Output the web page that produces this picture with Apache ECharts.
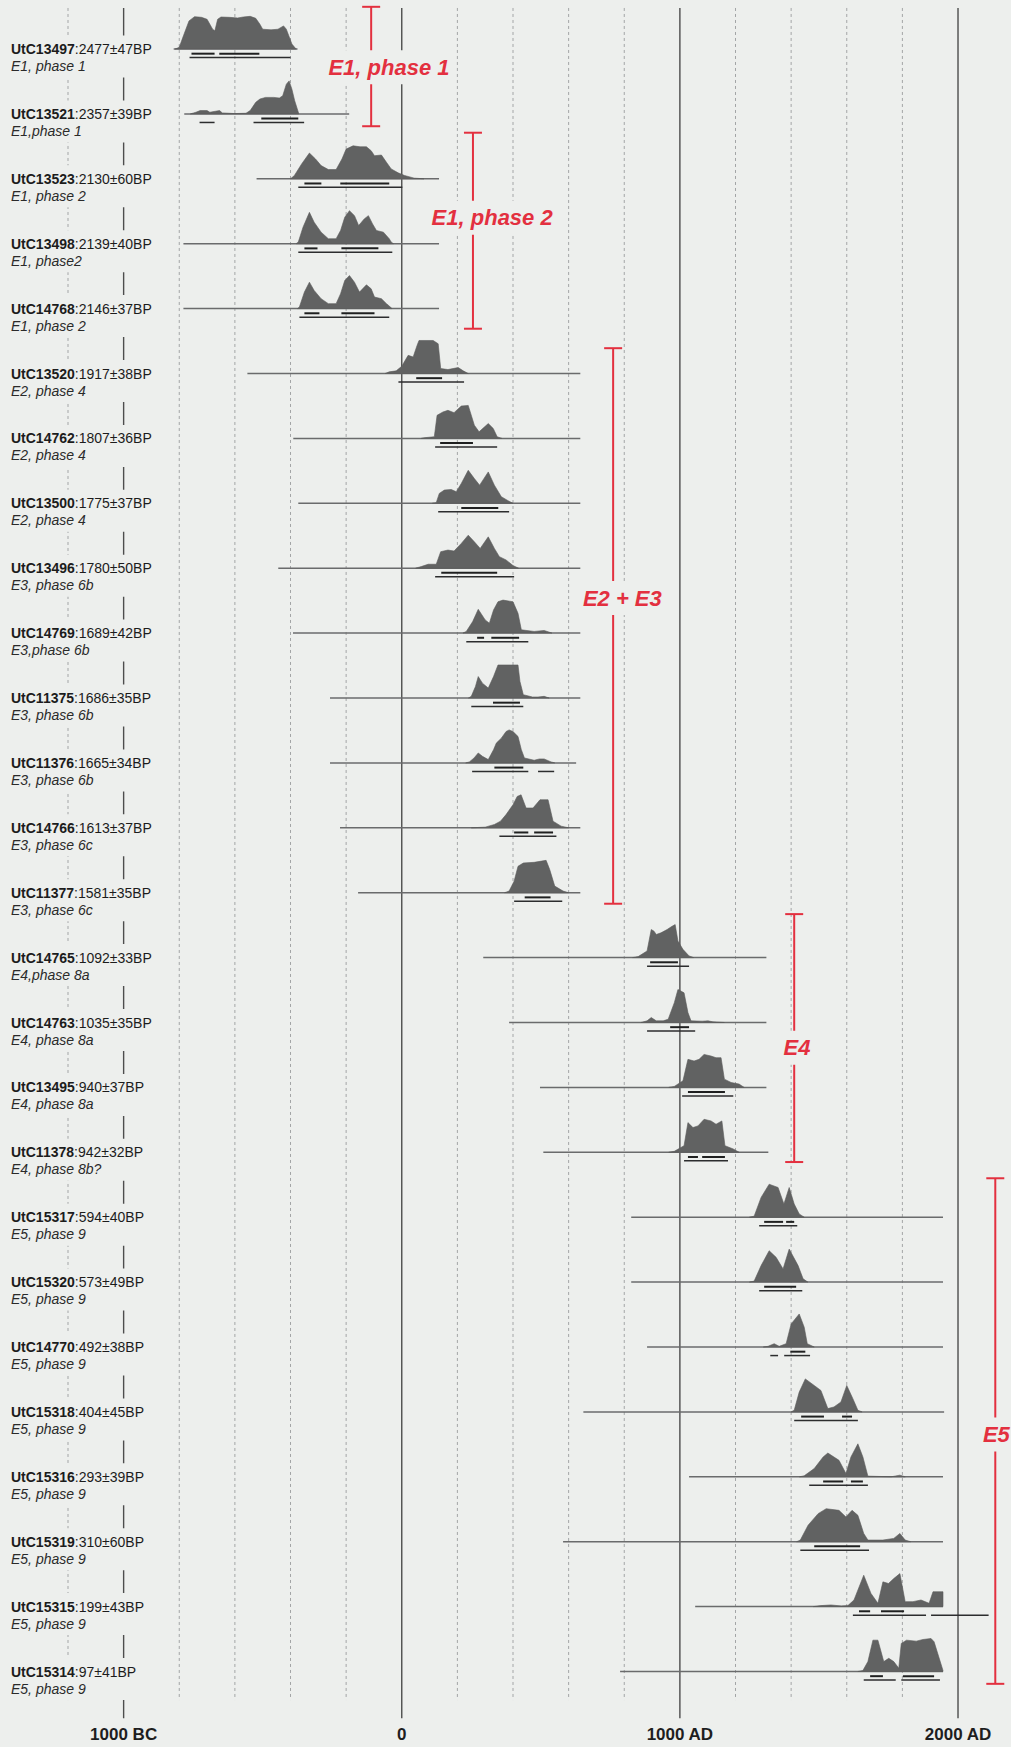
<!DOCTYPE html>
<html><head><meta charset="utf-8">
<script src="https://cdn.jsdelivr.net/npm/echarts@6/dist/echarts.min.js"></script>
<style>html,body{margin:0;padding:0;background:#edefed;}#c{width:1011px;height:1747px;}</style>
</head><body><div id="c"></div>
<script>
// ---------------- DATA ----------------
const sampleIds = ['UtC13497','UtC13521','UtC13523','UtC13498','UtC14768','UtC13520','UtC14762','UtC13500','UtC13496','UtC14769','UtC11375','UtC11376','UtC14766','UtC11377','UtC14765','UtC14763','UtC13495','UtC11378','UtC15317','UtC15320','UtC14770','UtC15318','UtC15316','UtC15319','UtC15315','UtC15314'];
const bpDates = ['2477±47BP','2357±39BP','2130±60BP','2139±40BP','2146±37BP','1917±38BP','1807±36BP','1775±37BP','1780±50BP','1689±42BP','1686±35BP','1665±34BP','1613±37BP','1581±35BP','1092±33BP','1035±35BP','940±37BP','942±32BP','594±40BP','573±49BP','492±38BP','404±45BP','293±39BP','310±60BP','199±43BP','97±41BP'];
const contexts = ['E1, phase 1','E1,phase 1','E1, phase 2','E1, phase2','E1, phase 2','E2, phase 4','E2, phase 4','E2, phase 4','E3, phase 6b','E3,phase 6b','E3, phase 6b','E3, phase 6b','E3, phase 6c','E3, phase 6c','E4,phase 8a','E4, phase 8a','E4, phase 8a','E4, phase 8b?','E5, phase 9','E5, phase 9','E5, phase 9','E5, phase 9','E5, phase 9','E5, phase 9','E5, phase 9','E5, phase 9'];
// calendar span of each plotted baseline (years, negative = BC)
const spanStart = [-820,-782,-522,-785,-785,-555,-390,-372,-444,-391,-258,-258,-222,-157,293,386,497,509,825,825,882,653,1033,580,1055,785];
const spanEnd   = [-375,-189,134,134,134,642,642,642,642,642,642,627,642,642,1311,1311,1311,1318,1946,1946,1946,1950,1946,1946,1946,1946];
// probability profiles: [year, relative density]
const profiles = [
 [[-815,0],[-800,0.05],[-785,0.4],[-765,0.85],[-745,0.98],[-720,0.96],[-700,0.9],[-680,0.6],[-672,0.55],[-662,0.9],[-650,0.97],[-620,0.96],[-590,0.94],[-570,0.97],[-545,0.99],[-525,0.93],[-510,0.75],[-500,0.6],[-470,0.58],[-445,0.6],[-425,0.7],[-415,0.6],[-395,0.15],[-380,0]],
 [[-760,0],[-740,0.05],[-725,0.1],[-700,0.1],[-690,0.05],[-670,0.08],[-655,0.1],[-645,0.03],[-600,0.01],[-560,0.02],[-545,0.1],[-525,0.35],[-510,0.45],[-490,0.5],[-460,0.5],[-440,0.48],[-428,0.55],[-415,0.9],[-405,1.0],[-395,0.75],[-385,0.4],[-370,0]],
 [[-400,0],[-386,0.1],[-360,0.45],[-332,0.78],[-310,0.6],[-290,0.4],[-264,0.28],[-236,0.28],[-215,0.6],[-200,0.9],[-175,1.0],[-150,0.97],[-127,0.97],[-110,0.85],[-98,0.7],[-73,0.72],[-55,0.5],[-38,0.3],[-13,0.18],[10,0.1],[45,0.02],[80,0]],
 [[-380,0],[-372,0.05],[-355,0.5],[-332,0.95],[-315,0.65],[-290,0.35],[-264,0.15],[-236,0.15],[-220,0.4],[-205,0.8],[-188,1.0],[-170,0.85],[-155,0.55],[-135,0.75],[-120,0.85],[-105,0.6],[-91,0.4],[-66,0.35],[-45,0.15],[-38,0.05],[-30,0]],
 [[-375,0],[-368,0.05],[-350,0.5],[-332,0.8],[-315,0.55],[-290,0.3],[-264,0.15],[-236,0.15],[-220,0.45],[-205,0.85],[-188,1.0],[-170,0.8],[-152,0.5],[-127,0.72],[-110,0.6],[-98,0.35],[-73,0.3],[-55,0.15],[-48,0.1],[-35,0]],
 [[-60,0],[-45,0.05],[-20,0.08],[0,0.22],[23,0.55],[41,0.5],[55,0.85],[62,1.0],[113,1.0],[131,0.9],[140,0.15],[166,0.12],[203,0.18],[221,0.08],[239,0]],
 [[70,0],[81,0.02],[117,0.05],[127,0.7],[148,0.8],[166,0.85],[188,0.78],[214,0.98],[239,1.0],[261,0.4],[278,0.2],[311,0.45],[329,0.3],[343,0.05],[360,0]],
 [[110,0],[124,0.02],[135,0.3],[153,0.4],[178,0.42],[196,0.35],[214,0.6],[239,1.0],[261,0.75],[280,0.55],[311,0.95],[333,0.55],[358,0.2],[382,0.08],[400,0]],
 [[50,0],[70,0.05],[95,0.12],[124,0.12],[140,0.5],[166,0.55],[188,0.52],[214,0.75],[239,1.0],[261,0.8],[282,0.6],[311,0.95],[333,0.6],[351,0.35],[375,0.25],[400,0.08],[420,0]],
 [[220,0],[232,0.05],[255,0.35],[275,0.72],[300,0.4],[315,0.3],[330,0.7],[346,0.95],[364,1.0],[400,0.95],[418,0.6],[430,0.1],[476,0.05],[512,0.08],[540,0]],
 [[240,0],[250,0.05],[265,0.35],[275,0.65],[290,0.45],[311,0.3],[330,0.65],[346,1.0],[418,1.0],[425,0.5],[437,0.1],[470,0.03],[490,0.03],[512,0.05],[530,0]],
 [[230,0],[243,0.03],[260,0.15],[275,0.3],[290,0.2],[311,0.1],[330,0.4],[340,0.6],[358,0.75],[375,0.95],[386,1.0],[400,0.95],[418,0.8],[430,0.4],[441,0.15],[476,0.08],[495,0.12],[512,0.12],[537,0.03],[550,0]],
 [[250,0],[300,0.02],[333,0.1],[355,0.2],[375,0.4],[400,0.7],[415,0.95],[429,1.0],[447,0.6],[472,0.6],[497,0.85],[526,0.85],[544,0.2],[573,0.05],[600,0]],
 [[370,0],[386,0.05],[404,0.35],[418,0.8],[437,0.9],[476,0.92],[519,0.98],[532,0.7],[550,0.2],[580,0.05],[600,0]],
 [[830,0],[850,0.03],[882,0.2],[897,0.85],[907,0.8],[915,0.7],[932,0.75],[954,0.85],[972,0.95],[983,1.0],[993,0.5],[1011,0.25],[1033,0.05],[1050,0]],
 [[860,0],[882,0.05],[897,0.15],[915,0.05],[940,0.05],[958,0.1],[980,0.6],[993,1.0],[1015,0.9],[1029,0.3],[1040,0.05],[1080,0.04],[1101,0.05],[1119,0.02],[1160,0]],
 [[960,0],[980,0.03],[1011,0.2],[1029,0.85],[1051,0.8],[1069,0.85],[1087,1.0],[1112,0.95],[1130,0.9],[1148,0.9],[1160,0.25],[1184,0.15],[1213,0.1],[1231,0]],
 [[960,0],[980,0.03],[1015,0.2],[1029,0.9],[1047,0.75],[1065,0.8],[1087,1.0],[1112,0.95],[1130,0.85],[1151,0.95],[1162,0.2],[1192,0.1],[1213,0]],
 [[1250,0],[1267,0.03],[1292,0.6],[1321,1.0],[1353,0.9],[1374,0.4],[1393,0.9],[1411,0.4],[1429,0.1],[1447,0]],
 [[1250,0],[1267,0.03],[1292,0.5],[1321,0.95],[1346,0.75],[1371,0.4],[1393,1.0],[1425,0.5],[1443,0.1],[1460,0]],
 [[1300,0],[1317,0.02],[1339,0.1],[1357,0.02],[1382,0.1],[1400,0.7],[1429,1.0],[1447,0.6],[1458,0.1],[1483,0]],
 [[1400,0],[1411,0.05],[1429,0.6],[1451,1.0],[1483,0.8],[1507,0.65],[1532,0.1],[1554,0.15],[1579,0.3],[1600,0.8],[1622,0.4],[1640,0.05],[1655,0]],
 [[1430,0],[1447,0.03],[1483,0.25],[1515,0.6],[1532,0.72],[1572,0.5],[1597,0.1],[1615,0.6],[1640,1.0],[1658,0.6],[1676,0.02],[1760,0],[1791,0.05],[1810,0]],
 [[1420,0],[1433,0.05],[1461,0.5],[1497,0.85],[1526,1.0],[1572,0.95],[1597,0.75],[1619,0.95],[1640,0.8],[1661,0.25],[1676,0.05],[1730,0.05],[1769,0.1],[1791,0.25],[1810,0.05],[1830,0]],
 [[1480,0],[1507,0.03],[1543,0.05],[1580,0.02],[1604,0.03],[1626,0.2],[1661,0.95],[1687,0.4],[1712,0.1],[1730,0.75],[1750,0.7],[1769,0.85],[1791,1.0],[1810,0.15],[1838,0.15],[1867,0.2],[1896,0.1],[1910,0.45],[1946,0.45]],
 [[1640,0],[1658,0.03],[1676,0.3],[1694,0.95],[1712,0.95],[1733,0.3],[1751,0.4],[1769,0.3],[1787,0.1],[1796,0.85],[1815,0.95],[1850,0.92],[1874,0.97],[1903,1.0],[1914,0.9],[1946,0.03]]
];
// 68.2% ranges
const sigma1 = [
 [[-756,-673],[-656,-512]],[[-505,-372]],[[-350,-289],[-221,-45]],[[-350,-303],[-217,-84]],[[-350,-296],[-217,-98]],
 [[52,145]],[[138,256]],[[214,347]],[[142,343]],[[271,296],[322,422]],[[328,425]],[[333,437]],[[404,455],[476,544]],[[442,535]],
 [[893,993]],[[965,1033]],[[1029,1162]],[[1029,1065],[1080,1162]],
 [[1303,1371],[1382,1411]],[[1303,1418]],[[1397,1451]],[[1436,1518],[1583,1619]],[[1515,1587],[1615,1658]],[[1483,1648]],[[1644,1684],[1723,1806]],[[1684,1730],[1802,1914]]
];
// 95.4% ranges
const sigma2 = [
 [[-763,-400]],[[-727,-673],[-533,-351]],[[-372,2]],[[-372,-34]],[[-368,-45]],
 [[-12,224]],[[120,343]],[[131,386]],[[120,404]],[[232,455]],[[250,437]],[[253,455],[490,548]],[[351,556]],[[404,577]],
 [[882,1033]],[[882,1055]],[[1008,1192]],[[1015,1173]],
 [[1285,1422]],[[1285,1440]],[[1325,1353],[1375,1468]],[[1411,1640]],[[1465,1676]],[[1433,1680]],[[1622,1885],[1903,2110]],[[1661,1776],[1796,1935]]
];
// vertical reference lines (years) and tick labels
const gridYears = [-1200,-1000,-800,-600,-400,-200,0,200,400,600,800,1000,1200,1400,1600,1800,2000];
const majorYears = [-1000,0,1000,2000];
const tickLabels = {'-1000':'1000 BC','0':'0','1000':'1000 AD','2000':'2000 AD'};
// phase groupings (red brackets): position in years, first/last row extent
const phaseNames = ['E1, phase 1','E1, phase 2','E2 + E3','E4','E5'];
const phaseYear  = [-110, 256, 760, 1411, 2134];
const phaseFrom  = [-0.65, 1.29, 4.61, 13.33, 17.40];
const phaseTo    = [1.19, 4.31, 13.17, 17.15, 25.19];
const phaseLabelYear = [-46, 325, 793, 1421, 2138];
const phaseLabelRow  = [0.28, 2.60, 8.46, 15.39, 21.35];

// ---------------- CHART ----------------
const F = '"Liberation Sans", Arial, Helvetica, sans-serif';
const PAPER = '#edefed';
const PEAK = 0.5085;         // profile height in row units
const RED = '#e3303f';
const chart = echarts.init(document.getElementById('c'), null, {renderer:'svg', width:1011, height:1747});

const rowIdx = sampleIds.map((_, i) => [i]);
const sigData = [];
sigma1.forEach((rs, i) => rs.forEach(r => sigData.push([r[0], r[1], i, 1])));
sigma2.forEach((rs, i) => rs.forEach(r => sigData.push([r[0], r[1], i, 2])));

const option = {
  backgroundColor: PAPER,
  animation: false,
  grid: {left: 68, right: 0, top: 16.55, height: 1687.4},
  xAxis: {
    type: 'value', min: -1200, max: 2190.5, interval: 200,
    axisLine: {show: false}, axisTick: {show: false}, splitLine: {show: false},
    axisLabel: {formatter: v => tickLabels[String(v)] || '', margin: 22, fontSize: 17, fontWeight: 'bold', color: '#1e1e1e', fontFamily: F, showMaxLabel: false}
  },
  yAxis: {type: 'value', inverse: true, min: -0.5, max: 25.5, show: false},
  series: [
    { // vertical reference lines
      type: 'custom', z: 1, clip: false, silent: true,
      data: gridYears.map(y => [y, majorYears.includes(y) ? 1 : 0]),
      renderItem: (p, api) => {
        const yr = api.value(0), major = api.value(1) === 1;
        const a = api.coord([yr, -0.632]);
        const b = api.coord([yr, major ? 25.72 : 25.44]);
        return {type: 'line', shape: {x1: a[0], y1: a[1], x2: b[0], y2: b[1]},
          style: {stroke: major ? '#4d4d4d' : '#a3a5a6', lineWidth: major ? 1.4 : 1, lineDash: major ? null : [3, 3]}};
      }
    },
    { // baselines
      type: 'custom', z: 2, clip: false, silent: true,
      data: rowIdx,
      renderItem: (p, api) => {
        const i = api.value(0);
        const a = api.coord([spanStart[i], i]), b = api.coord([spanEnd[i], i]);
        return {type: 'line', shape: {x1: a[0], y1: a[1], x2: b[0], y2: b[1]}, style: {stroke: '#6a6b6c', lineWidth: 1.5}};
      }
    },
    { // probability distributions
      type: 'custom', z: 3, clip: false, silent: true,
      data: rowIdx,
      renderItem: (p, api) => {
        const i = api.value(0);
        const prof = profiles[i];
        const pts = [api.coord([prof[0][0], i])];
        prof.forEach(d => pts.push(api.coord([d[0], i - d[1] * PEAK])));
        pts.push(api.coord([prof[prof.length - 1][0], i]));
        return {type: 'polygon', shape: {points: pts}, style: {fill: '#616262', stroke: '#5a5b5b', lineWidth: 0.6}};
      }
    },
    { // 68.2% / 95.4% ranges
      type: 'custom', z: 3, clip: false, silent: true,
      data: sigData,
      renderItem: (p, api) => {
        const lvl = api.value(3), i = api.value(2);
        const off = lvl === 1 ? 0.072 : 0.132;
        const a = api.coord([api.value(0), i + off]), b = api.coord([api.value(1), i + off]);
        return {type: 'line', shape: {x1: a[0], y1: a[1], x2: b[0], y2: b[1]},
          style: {stroke: lvl === 1 ? '#1f2020' : '#2c2d2e', lineWidth: lvl === 1 ? 2 : 1.5}};
      }
    },
    { // sample labels
      type: 'custom', z: 4, clip: false, silent: true,
      data: rowIdx,
      renderItem: (p, api) => {
        const i = api.value(0);
        const c = api.coord([-1405, i]);
        return {type: 'text', x: c[0] - 2, y: c[1] - 13.5,
          style: {
            text: '{b|' + sampleIds[i] + '}{r|:' + bpDates[i] + '}\n{i|' + contexts[i] + '}',
            rich: {
              b: {fontSize: 14, fontWeight: 'bold', fontFamily: F, fill: '#1c1c1c', lineHeight: 17},
              r: {fontSize: 14, fontFamily: F, fill: '#1c1c1c', lineHeight: 17},
              i: {fontSize: 14, fontStyle: 'italic', fontFamily: F, fill: '#2a2a2a', lineHeight: 17}
            },
            align: 'left', verticalAlign: 'top',
            backgroundColor: PAPER, padding: [5, 4, 3, 2]
          }};
      }
    },
    { // phase brackets
      type: 'custom', z: 5, clip: false, silent: true,
      data: phaseNames.map((_, k) => [k]),
      renderItem: (p, api) => {
        const k = api.value(0);
        const t = api.coord([phaseYear[k], phaseFrom[k]]);
        const b = api.coord([phaseYear[k], phaseTo[k]]);
        const lc = api.coord([phaseLabelYear[k], phaseLabelRow[k]]);
        const st = {stroke: RED, lineWidth: 2};
        return {type: 'group', children: [
          {type: 'line', shape: {x1: t[0], y1: t[1], x2: b[0], y2: b[1]}, style: st},
          {type: 'line', shape: {x1: t[0] - 9, y1: t[1], x2: t[0] + 9, y2: t[1]}, style: st},
          {type: 'line', shape: {x1: b[0] - 9, y1: b[1], x2: b[0] + 9, y2: b[1]}, style: st},
          {type: 'text', x: lc[0], y: lc[1], style: {
            text: phaseNames[k], fill: RED, fontSize: 22, fontWeight: 'bold', fontStyle: 'italic', fontFamily: F,
            align: 'center', verticalAlign: 'middle', backgroundColor: PAPER, padding: [6, 2]}}
        ]};
      }
    }
  ]
};
chart.setOption(option);
</script></body></html>
